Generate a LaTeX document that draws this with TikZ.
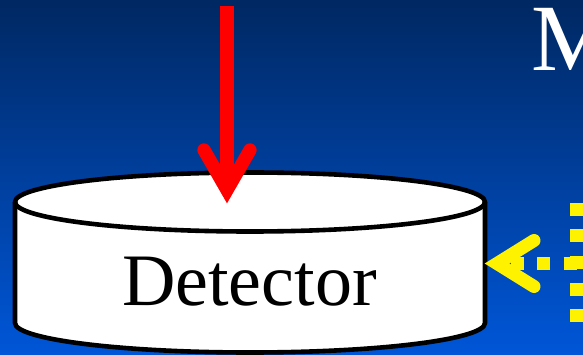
\documentclass[tikz,border=0pt]{standalone}
\usepackage{fontspec}
\setmainfont{Liberation Serif}
\usetikzlibrary{calc}
\definecolor{bgtop}{RGB}{0,40,98}
\definecolor{bgbot}{RGB}{0,86,216}
\begin{document}
\begin{tikzpicture}[x=1pt,y=-1pt,
  cylline/.style={line width=4.6pt,line join=round},
  redshaft/.style={draw=red,line width=13.3pt},
  redhead/.style={draw=red,line width=13.3pt,line cap=round,line join=miter},
  yshaft/.style={draw=yellow,line width=13pt,dash pattern=on 13pt off 13.5pt},
  yhead/.style={draw=yellow,line width=13pt,line cap=round,line join=miter},
  bigtext/.style={font=\fontsize{74}{80}\selectfont,inner sep=0pt,anchor=base}]
\useasboundingbox (0,0) rectangle (583,355);
\clip (0,0) rectangle (583,355);
\shade[top color=bgtop,bottom color=bgbot] (0,0) rectangle (583,355);
% cylinder
\fill[white] (15,202) -- (15,323) arc[start angle=180,end angle=0,x radius=235,y radius=29.5] -- (485,202) -- cycle;
\fill[white] (250,202) ellipse [x radius=235,y radius=29.5];
\draw[cylline] (15,202) -- (15,323) arc[start angle=180,end angle=0,x radius=235,y radius=29.5] -- (485,202);
\draw[cylline] (250,202) ellipse [x radius=235,y radius=29.5];
\node[bigtext] (det) at (249.5,305) {Detector};
% title letter
\node[white,font=\fontsize{95}{100}\selectfont,inner sep=0pt,anchor=base west] (M) at (531,71) {M};
% red arrow
\coordinate (rstart) at (227,6);
\coordinate (rend) at (227,190);
\draw[redshaft] (rstart) -- (rend);
\draw[redhead] ($(rend)+(-23,-40)$) -- (rend) -- ($(rend)+(23,-40)$);
% yellow arrow
\coordinate (ytip) at (497,263.5);
\coordinate (yright) at (600,263.5);
\draw[yshaft,dash phase=13pt] (ytip) -- (yright);
\draw[yhead] ($(ytip)+(37,-23)$) -- (ytip) -- ($(ytip)+(37,23)$);
\coordinate (vtop) at (576,203);
\coordinate (vbot) at (576,322);
\draw[yshaft] (vtop) -- (vbot);
\end{tikzpicture}
\end{document}
